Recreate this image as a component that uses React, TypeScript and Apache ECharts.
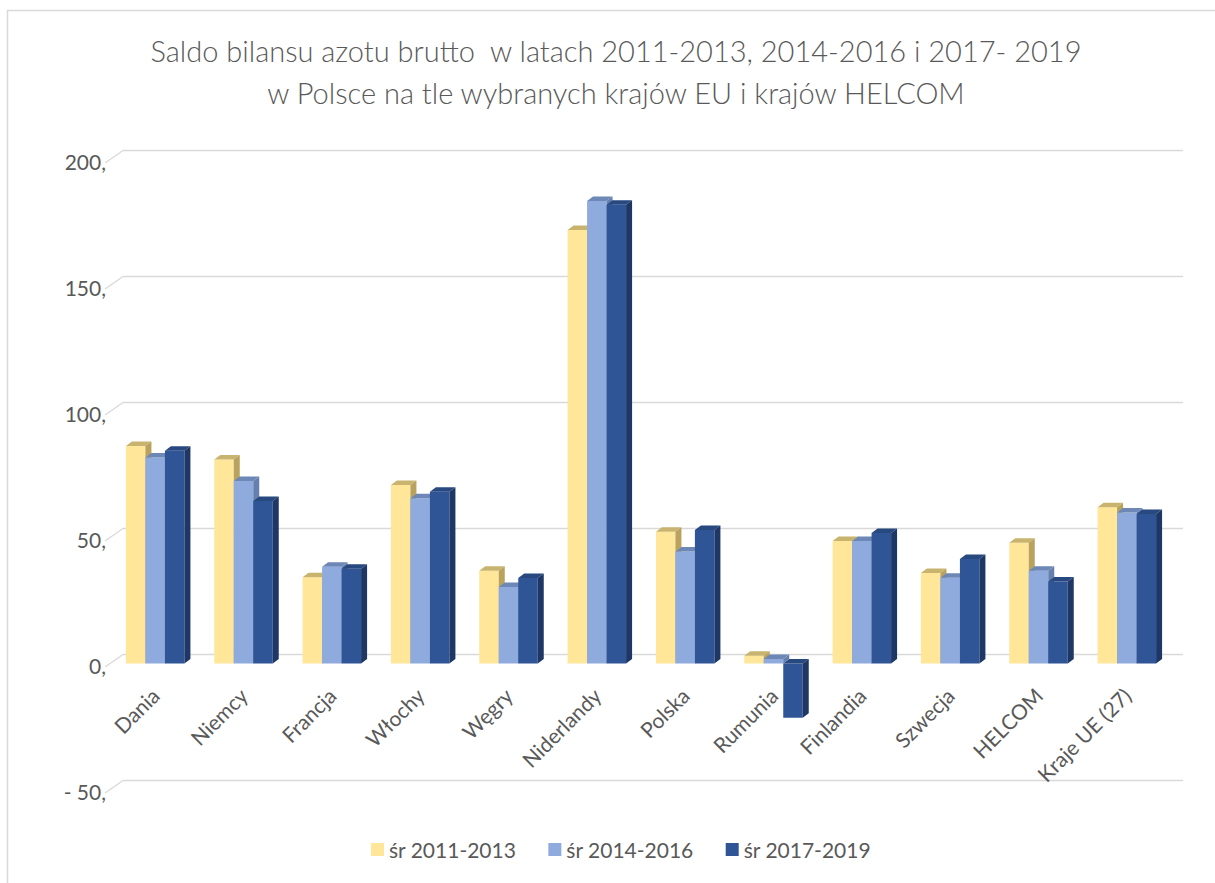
import React, { useEffect, useRef } from "react";
import * as echarts from "echarts";

const categories = [
  "Dania",
  "Niemcy",
  "Francja",
  "Włochy",
  "Węgry",
  "Niderlandy",
  "Polska",
  "Rumunia",
  "Finlandia",
  "Szwecja",
  "HELCOM",
  "Kraje UE (27)",
];
const seriesNames = ["śr 2011-2013", "śr 2014-2016", "śr 2017-2019"];
const s2011_2013 = [86.3, 81.0, 34.2, 70.8, 36.8, 172.0, 52.3, 3.1, 48.6, 35.9, 47.9, 62.0];
const s2014_2016 = [81.7, 72.4, 38.4, 65.6, 30.4, 183.5, 44.4, 1.8, 48.6, 34.0, 36.8, 59.9];
const s2017_2019 = [84.4, 64.5, 37.6, 68.2, 33.9, 182.0, 53.0, -21.5, 51.8, 41.5, 32.5, 59.3];
const yTicks = [-50, 0, 50, 100, 150, 200];

const FONT = "Lato";
const TXT = "#595959";
const GRIDC = "#D9D9D9";

const faceColors = [
  { front: "#FFE699", top: "#C8B46E", side: "#B8A25E" },
  { front: "#8FAADC", top: "#6D87B6", side: "#6580AE" },
  { front: "#2F5597", top: "#27497F", side: "#1E3765" },
];

const BW = 19.5;
const DX = 6;
const DY = 4.5;

function makeBarSeries(si: number, values: number[]) {
  const c = faceColors[si];
  return {
    type: "custom",
    name: seriesNames[si],
    xAxisIndex: 1,
    yAxisIndex: 1,
    itemStyle: { color: c.front },
    encode: { x: 0, y: 1 },
    data: values.map((v, i) => [i, v]),
    renderItem: (params: any, api: any) => {
      const idx = api.value(0);
      const v = api.value(1);
      const cx = api.coord([idx, 0])[0];
      const yTop = api.coord([idx, Math.max(v, 0)])[1];
      const yBot = api.coord([idx, Math.min(v, 0)])[1];
      const left = cx + (si - 1.5) * BW;
      const right = left + BW;
      return {
        type: "group",
        children: [
          {
            type: "rect",
            shape: { x: left, y: yTop, width: BW, height: yBot - yTop },
            style: { fill: c.front },
          },
          {
            type: "polygon",
            shape: {
              points: [
                [left, yTop],
                [right, yTop],
                [right + DX, yTop - DY],
                [left + DX, yTop - DY],
              ],
            },
            style: { fill: c.top },
          },
          {
            type: "polygon",
            shape: {
              points: [
                [right, yTop],
                [right + DX, yTop - DY],
                [right + DX, yBot - DY],
                [right, yBot],
              ],
            },
            style: { fill: c.side },
          },
        ],
      };
    },
  };
}

export default function App() {
  const ref = useRef<HTMLDivElement>(null);
  useEffect(() => {
    document.body.style.margin = "0";
    const chart = echarts.init(ref.current!, null, { renderer: "svg" });
    chart.setOption({
      animation: false,
      backgroundColor: "#ffffff",
      textStyle: { fontFamily: FONT },
      title: {
        text:
          "Saldo bilansu azotu brutto  w latach 2011-2013, 2014-2016 i 2017- 2019\nw Polsce na tle wybranych krajów EU i krajów HELCOM",
        left: 616,
        textAlign: "center",
        top: 29,
        padding: 0,
        textStyle: {
          fontFamily: FONT,
          fontSize: 29,
          fontWeight: 300,
          color: TXT,
          lineHeight: 42,
        },
      },
      graphic: [
        {
          type: "rect",
          shape: { x: 7.5, y: 10.5, width: 1300, height: 1000 },
          style: { fill: "none", stroke: GRIDC, lineWidth: 1.5 },
          silent: true,
          z: -1,
        },
      ],
      legend: {
        data: seriesNames,
        bottom: 18,
        left: 366,
        icon: "rect",
        itemWidth: 13,
        itemHeight: 13,
        itemGap: 32,
        textStyle: { fontFamily: FONT, fontSize: 21, color: TXT },
      },
      grid: [
        { left: 123, top: 150.5, width: 1060, height: 630 },
        { left: 111, top: 159.5, width: 1060, height: 630 },
        { left: 106, top: 161, width: 1060, height: 630 },
      ],
      xAxis: [
        { type: "category", gridIndex: 0, data: categories, show: false },
        {
          type: "category",
          gridIndex: 1,
          data: categories,
          position: "bottom",
          offset: -126,
          axisLine: { show: false },
          axisTick: { show: false },
          axisLabel: {
            interval: 0,
            rotate: 45,
            margin: 28,
            fontFamily: FONT,
            fontSize: 21,
            color: TXT,
          },
        },
        { type: "category", gridIndex: 2, data: categories, show: false },
      ],
      yAxis: [
        {
          type: "value",
          gridIndex: 0,
          min: -50,
          max: 200,
          interval: 50,
          axisLine: { show: false },
          axisTick: { show: false },
          axisLabel: { show: false },
          splitLine: { lineStyle: { color: GRIDC, width: 1.3 } },
        },
        {
          type: "value",
          gridIndex: 1,
          min: -50,
          max: 200,
          interval: 50,
          show: false,
          splitLine: { show: false },
        },
        {
          type: "value",
          gridIndex: 2,
          min: -50,
          max: 200,
          interval: 50,
          axisLine: { show: false },
          axisTick: { show: false },
          splitLine: { show: false },
          axisLabel: {
            margin: 0,
            fontFamily: FONT,
            fontSize: 21,
            color: TXT,
            formatter: (v: number) => (v < 0 ? `- ${-v},` : `${v},`),
          },
        },
      ],
      series: [
        {
          type: "custom",
          name: "floor",
          xAxisIndex: 0,
          yAxisIndex: 0,
          silent: true,
          data: yTicks.map((v) => [0, v]),
          encode: { x: 0, y: 1 },
          renderItem: (params: any, api: any) => {
            const y = api.coord([0, api.value(1)])[1];
            const x0 = params.coordSys.x;
            return {
              type: "line",
              shape: { x1: x0, y1: y, x2: x0 - 18, y2: y + 12.5 },
              style: { stroke: GRIDC, lineWidth: 1.3 },
            };
          },
        },
        makeBarSeries(0, s2011_2013),
        makeBarSeries(1, s2014_2016),
        makeBarSeries(2, s2017_2019),
      ],
    });
    return () => chart.dispose();
  }, []);
  return <div ref={ref} style={{ width: 1215, height: 883 }} />;
}
